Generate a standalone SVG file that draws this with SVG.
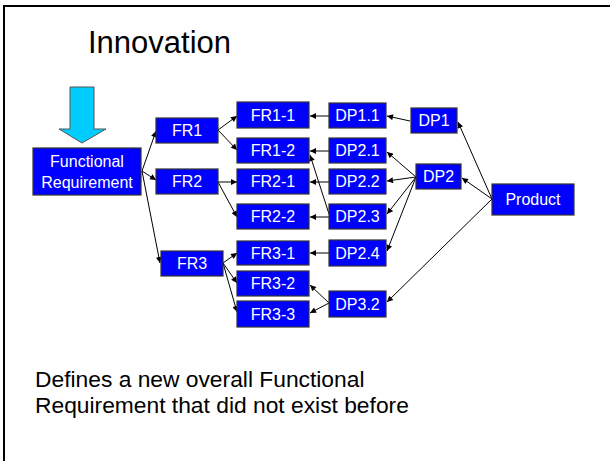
<svg xmlns="http://www.w3.org/2000/svg" width="610" height="461" viewBox="0 0 610 461">
  <defs>
    <marker id="arr" viewBox="0 0 10 10" refX="10" refY="5" markerWidth="7" markerHeight="6" markerUnits="userSpaceOnUse" orient="auto">
      <path d="M0,0 L10,5 L0,10 z" fill="#000"/>
    </marker>
    <style>
      .box { fill: #0000FF; stroke: #333; stroke-width: 1.2; }
      .lbl { fill: #fff; font-family: "Liberation Sans", Arial, sans-serif; font-size: 16px; text-anchor: middle; }
      .txt { fill: #000; font-family: "Liberation Sans", Arial, sans-serif; }
      .edge { stroke: #000; stroke-width: 1; fill: none; marker-end: url(#arr); }
    </style>
  </defs>

  <rect width="610" height="461" fill="#fff"/>
  <!-- slide frame: only top and left edges fall inside the view -->
  <path d="M4,461 V6 H610" fill="none" stroke="#000" stroke-width="2"/>

  <text class="txt" x="88" y="53" font-size="31">Innovation</text>

  <!-- downward input arrow -->
  <path d="M70,87 H94 V129 H106 L82,143 L59,129 H70 Z" fill="#00CCFF" stroke="#555" stroke-width="1"/>

  <g id="connectors">
    <line class="edge" x1="142" y1="171" x2="156" y2="131"/>
    <line class="edge" x1="142" y1="171" x2="156" y2="180"/>
    <line class="edge" x1="142" y1="171" x2="160" y2="263"/>

    <line class="edge" x1="218" y1="130" x2="237" y2="116"/>
    <line class="edge" x1="218" y1="130" x2="237" y2="150"/>
    <line class="edge" x1="218" y1="182" x2="237" y2="182"/>
    <line class="edge" x1="218" y1="182" x2="237" y2="217"/>
    <line class="edge" x1="223" y1="263" x2="237" y2="253"/>
    <line class="edge" x1="223" y1="263" x2="237" y2="283"/>
    <line class="edge" x1="223" y1="263" x2="237" y2="312"/>

    <line class="edge" x1="329" y1="116" x2="310" y2="116"/>
    <line class="edge" x1="329" y1="151" x2="310" y2="151"/>
    <line class="edge" x1="329" y1="182" x2="310" y2="182"/>
    <line class="edge" x1="329" y1="217" x2="310" y2="217"/>
    <line class="edge" x1="329" y1="214" x2="310" y2="155"/>
    <line class="edge" x1="329" y1="253" x2="310" y2="253"/>
    <line class="edge" x1="329" y1="303" x2="310" y2="285"/>
    <line class="edge" x1="329" y1="303" x2="310" y2="313"/>

    <line class="edge" x1="410" y1="121" x2="387" y2="116"/>
    <line class="edge" x1="416" y1="177" x2="387" y2="152"/>
    <line class="edge" x1="416" y1="177" x2="387" y2="181"/>
    <line class="edge" x1="416" y1="177" x2="387" y2="214"/>
    <line class="edge" x1="416" y1="177" x2="387" y2="251"/>

    <line class="edge" x1="492" y1="199" x2="458" y2="122"/>
    <line class="edge" x1="492" y1="199" x2="462" y2="178"/>
    <line class="edge" x1="492" y1="199" x2="387" y2="302"/>
  </g>

  <g id="functional-requirement">
    <rect class="box" x="33" y="148" width="108" height="47"/>
    <text class="lbl" x="87" y="167" font-size="16.5">Functional</text>
    <text class="lbl" x="87" y="188" font-size="16.5">Requirement</text>
  </g>

  <g id="fr1"><rect class="box" x="156" y="118" width="62" height="25"/><text class="lbl" x="187" y="136">FR1</text></g>
  <g id="fr2"><rect class="box" x="156" y="169" width="62" height="25"/><text class="lbl" x="187" y="187">FR2</text></g>
  <g id="fr3"><rect class="box" x="161" y="251" width="62" height="25"/><text class="lbl" x="192" y="269">FR3</text></g>

  <g id="fr1-1"><rect class="box" x="237" y="102" width="72" height="26"/><text class="lbl" x="273" y="121">FR1-1</text></g>
  <g id="fr1-2"><rect class="box" x="237" y="138" width="72" height="25"/><text class="lbl" x="273" y="156">FR1-2</text></g>
  <g id="fr2-1"><rect class="box" x="237" y="169" width="72" height="25"/><text class="lbl" x="273" y="187">FR2-1</text></g>
  <g id="fr2-2"><rect class="box" x="237" y="204" width="72" height="25"/><text class="lbl" x="273" y="222">FR2-2</text></g>
  <g id="fr3-1"><rect class="box" x="237" y="241" width="72" height="24"/><text class="lbl" x="273" y="259">FR3-1</text></g>
  <g id="fr3-2"><rect class="box" x="237" y="271" width="72" height="25"/><text class="lbl" x="273" y="289">FR3-2</text></g>
  <g id="fr3-3"><rect class="box" x="237" y="301" width="72" height="26"/><text class="lbl" x="273" y="320">FR3-3</text></g>

  <g id="dp1-1"><rect class="box" x="329" y="103" width="57" height="25"/><text class="lbl" x="357.5" y="121">DP1.1</text></g>
  <g id="dp2-1"><rect class="box" x="329" y="138" width="57" height="25"/><text class="lbl" x="357.5" y="156">DP2.1</text></g>
  <g id="dp2-2"><rect class="box" x="329" y="169" width="57" height="25"/><text class="lbl" x="357.5" y="187">DP2.2</text></g>
  <g id="dp2-3"><rect class="box" x="329" y="204" width="57" height="25"/><text class="lbl" x="357.5" y="222">DP2.3</text></g>
  <g id="dp2-4"><rect class="box" x="329" y="240" width="57" height="26"/><text class="lbl" x="357.5" y="259">DP2.4</text></g>
  <g id="dp3-2"><rect class="box" x="329" y="291" width="57" height="26"/><text class="lbl" x="357.5" y="310">DP3.2</text></g>

  <g id="dp1"><rect class="box" x="411" y="108" width="46" height="25"/><text class="lbl" x="434" y="126">DP1</text></g>
  <g id="dp2"><rect class="box" x="416" y="164" width="45" height="25"/><text class="lbl" x="438.5" y="182">DP2</text></g>

  <g id="product"><rect class="box" x="492" y="184" width="82" height="31"/><text class="lbl" x="533" y="205">Product</text></g>

  <text class="txt" x="35" y="387" font-size="22.8">Defines a new overall Functional</text>
  <text class="txt" x="35" y="413" font-size="22.8">Requirement that did not exist before</text>
</svg>
